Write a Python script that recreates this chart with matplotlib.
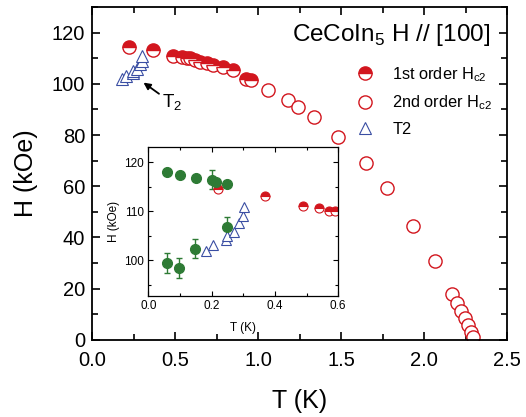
import numpy as np
import matplotlib
matplotlib.use('Agg')
import matplotlib.pyplot as plt
from matplotlib.ticker import MultipleLocator, FormatStrFormatter

plt.rcParams['font.family'] = ['Liberation Sans', 'DejaVu Sans']

red = '#d2161e'
blue = '#3a4ea3'
green = '#2e7b35'

# 1st order Hc2 (half filled)
t_first = [0.22, 0.37, 0.49, 0.54, 0.57, 0.59, 0.62, 0.65, 0.69, 0.73, 0.79, 0.85, 0.93, 0.96]
h_first = [114.5, 113.1, 111.0, 110.6, 110.0, 110.0, 109.3, 108.6, 108.0, 107.3, 106.7, 105.6, 102.1, 101.7]

# 2nd order Hc2 (open)
t_second = [1.06, 1.18, 1.24, 1.34, 1.48, 1.65, 1.775, 1.935, 2.066, 2.171, 2.201, 2.225, 2.247, 2.267, 2.281, 2.297]
h_second = [97.8, 93.7, 90.8, 86.9, 79.1, 69.0, 59.2, 44.4, 30.8, 18.0, 14.3, 11.4, 8.5, 5.9, 3.2, 1.0]

# T2 (triangles)
t_t2 = [0.182, 0.203, 0.245, 0.249, 0.271, 0.287, 0.298, 0.302]
h_t2 = [101.9, 103.1, 104.2, 104.9, 105.8, 107.6, 109.0, 110.9]

# green points in inset (upper / lower branch)
t_up = [0.058, 0.100, 0.151, 0.200, 0.214, 0.248]
h_up = [118.1, 117.5, 116.9, 116.5, 116.0, 115.5]
e_up = [0.5, 0.5, 0.5, 2.0, 0.5, 0.5]
t_lo = [0.058, 0.098, 0.147, 0.248]
h_lo = [99.4, 98.4, 102.4, 106.8]
e_lo = [2.0, 2.0, 2.0, 2.0]

fig = plt.figure(figsize=(5.26, 4.17), dpi=100)
ax = fig.add_axes([0.175, 0.185, 0.789, 0.798])

ax.plot(t_second, h_second, 'o', ms=9.5, mfc='white', mec=red, mew=1.0,
        ls='none', label='2nd order H$_{\\mathregular{c2}}$')
ax.plot(t_first, h_first, 'o', ms=9.5, fillstyle='top', mfc=red, mfcalt='white',
        mec=red, mew=1.0, ls='none', label='1st order H$_{\\mathregular{c2}}$')
ax.plot(t_t2, h_t2, '^', ms=9, mfc='white', mec=blue, mew=0.8, ls='none', label='T2')

ax.set_xlim(0, 2.5)
ax.set_ylim(0, 130)
ax.xaxis.set_major_locator(MultipleLocator(0.5))
ax.xaxis.set_minor_locator(MultipleLocator(0.25))
ax.xaxis.set_major_formatter(FormatStrFormatter('%.1f'))
ax.yaxis.set_major_locator(MultipleLocator(20))
ax.yaxis.set_minor_locator(MultipleLocator(10))
ax.tick_params(which='both', direction='in', top=True, right=True, width=1.2)
ax.tick_params(which='major', length=6, labelsize=14.5)
ax.tick_params(which='minor', length=4)
ax.tick_params(axis='x', which='major', pad=8)
ax.tick_params(axis='y', which='major', pad=5)
for s in ax.spines.values():
    s.set_linewidth(1.3)
ax.set_xlabel('T (K)', fontsize=18, labelpad=14)
ax.set_ylabel('H (kOe)', fontsize=18, labelpad=10)

handles, labels = ax.get_legend_handles_labels()
order = [1, 0, 2]
ax.legend([handles[i] for i in order], [labels[i] for i in order],
          loc='upper right', bbox_to_anchor=(1.0, 0.87), frameon=False,
          fontsize=11.8, handletextpad=0.9, labelspacing=0.6, handlelength=1.5)

ax.text(0.96, 0.955, 'CeCoIn$_{\\mathregular{5}}$ H // [100]', transform=ax.transAxes,
        ha='right', va='top', fontsize=17.5)

ax.annotate('T$_{\\mathregular{2}}$', xy=(0.31, 100.5), xytext=(0.42, 92.5),
            fontsize=13.5, va='center',
            arrowprops=dict(arrowstyle='-|>', color='black', lw=1.3,
                            mutation_scale=10, shrinkA=0, shrinkB=0))

# inset
ins = fig.add_axes([0.282, 0.290, 0.361, 0.357])
ins.errorbar(t_up, h_up, yerr=e_up, fmt='o', ms=7, color=green, ecolor=green,
             elinewidth=1.0, capsize=2)
ins.errorbar(t_lo, h_lo, yerr=e_lo, fmt='o', ms=7, color=green, ecolor=green,
             elinewidth=1.0, capsize=2)
ins.plot(t_first, h_first, 'o', ms=6.5, fillstyle='top', mfc=red, mfcalt='white',
         mec=red, mew=0.8, ls='none')
ins.plot(t_t2, h_t2, '^', ms=7, mfc='white', mec=blue, mew=0.8, ls='none')
ins.set_xlim(0, 0.6)
ins.set_ylim(92.7, 123.1)
ins.xaxis.set_major_locator(MultipleLocator(0.2))
ins.xaxis.set_minor_locator(MultipleLocator(0.1))
ins.xaxis.set_major_formatter(FormatStrFormatter('%.1f'))
ins.yaxis.set_major_locator(MultipleLocator(10))
ins.yaxis.set_minor_locator(MultipleLocator(5))
ins.tick_params(which='both', direction='in', top=True, right=True, labelsize=8.5, width=0.8)
ins.tick_params(which='major', length=3.5, pad=3)
ins.tick_params(which='minor', length=2)
for s in ins.spines.values():
    s.set_linewidth(0.9)
ins.set_xlabel('T (K)', fontsize=8.5, labelpad=7)
ins.set_ylabel('H (kOe)', fontsize=8.5, labelpad=3)

fig.savefig('out.png', dpi=100)
